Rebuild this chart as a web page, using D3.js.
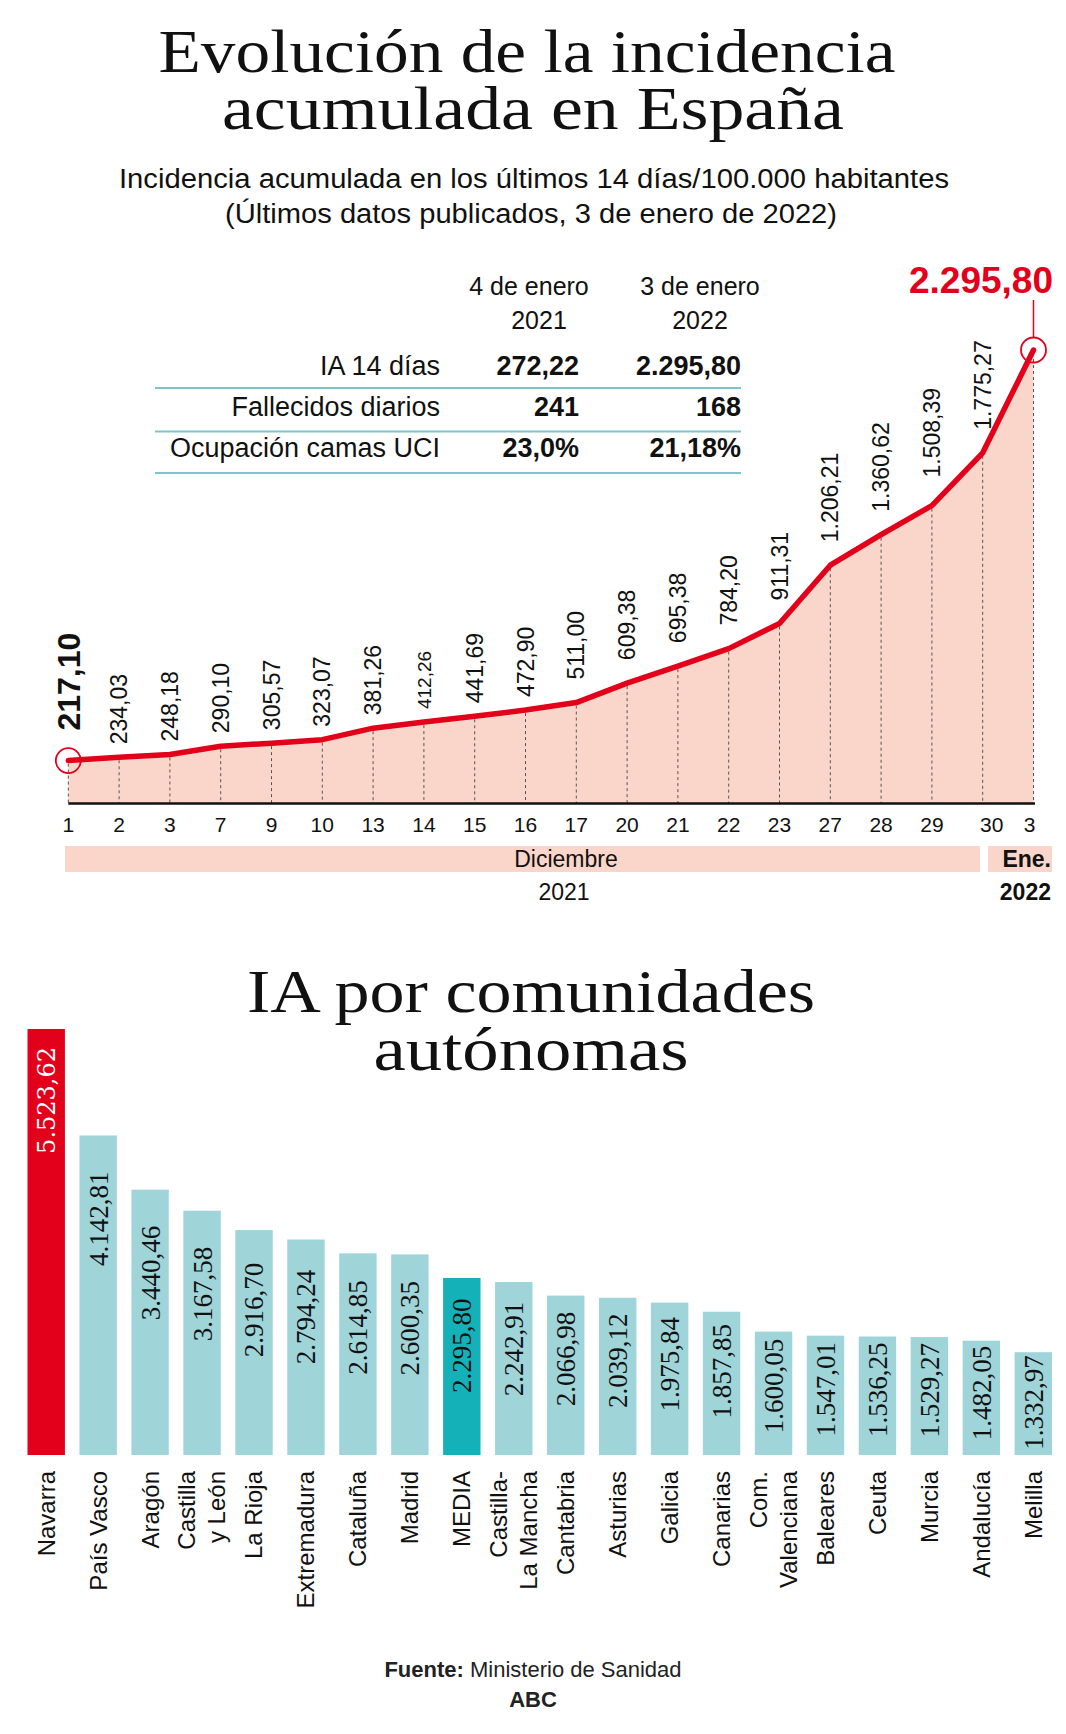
<!DOCTYPE html>
<html><head><meta charset="utf-8">
<script src="https://cdn.jsdelivr.net/npm/d3@7"></script>
<style>body{margin:0;background:#fff} svg{display:block}</style>
</head><body><svg id="c" width="1066" height="1734"></svg>
<script>
// ---------- DATA ----------
const days = ["1","2","3","7","9","10","13","14","15","16","17","20","21","22","23","27","28","29","30","3"];
const incidence = [217.10,234.03,248.18,290.10,305.57,323.07,381.26,412.26,441.69,472.90,511.00,609.38,695.38,784.20,911.31,1206.21,1360.62,1508.39,1775.27,2295.80];
const months = ["Diciembre","Ene."];
const years = ["2021","2022"];
const tableRowLabels = ["IA 14 días","Fallecidos diarios","Ocupación camas UCI"];
const tableHeaders = [["4 de enero","2021"],["3 de enero","2022"]];
const values2021 = ["272,22","241","23,0%"];
const values2022 = ["2.295,80","168","21,18%"];
const regions = ["Navarra","País Vasco","Aragón","Castilla|y León","La Rioja","Extremadura","Cataluña","Madrid","MEDIA","Castilla-|La Mancha","Cantabria","Asturias","Galicia","Canarias","Com.|Valenciana","Baleares","Ceuta","Murcia","Andalucía","Melilla"];
const regionIA = [5523.62,4142.81,3440.46,3167.58,2916.70,2794.24,2614.85,2600.35,2295.80,2242.91,2066.98,2039.12,1975.84,1857.85,1600.05,1547.01,1536.25,1529.27,1482.05,1332.97];

// ---------- SETUP ----------
const es = d3.formatLocale({decimal:",", thousands:".", grouping:[3], currency:["","€"]});
const fmt = es.format(",.2f");
const svg = d3.select("#c");
const SANS = "'Liberation Sans', Arial, sans-serif";
const SERIF = "'Liberation Serif', 'Times New Roman', serif";
const RED = "#e2001a", PINK = "#fad6ca", TEAL = "#9fd4d9", TEAL_D = "#14b2b8", INK = "#111";

function txt(x, y, s, size, opts = {}) {
  const t = svg.append("text").attr("x", x).attr("y", y).text(s)
    .attr("font-family", opts.family || SANS).attr("font-size", size)
    .attr("font-weight", opts.weight || "normal")
    .attr("fill", opts.fill || INK).attr("text-anchor", opts.anchor || "middle");
  if (opts.width) t.attr("textLength", opts.width).attr("lengthAdjust", "spacingAndGlyphs");
  return t;
}

// ---------- TITLES ----------
txt(527, 72, "Evolución de la incidencia", 62, {family: SERIF, width: 737});
txt(533, 129, "acumulada en España", 62, {family: SERIF, width: 622});
txt(534, 188, "Incidencia acumulada en los últimos 14 días/100.000 habitantes", 27, {width: 830});
txt(531, 223, "(Últimos datos publicados, 3 de enero de 2022)", 27, {width: 612});

// ---------- TABLE ----------
const hdrX = [[529, 539], [700, 700]];
tableHeaders.forEach((h, c) => {
  txt(hdrX[c][0], 295, h[0], 25);
  txt(hdrX[c][1], 329, h[1], 25);
});
const rowY = [375, 416, 457];
const ruleY = [388, 431.5, 473];
tableRowLabels.forEach((l, r) => {
  txt(440, rowY[r], l, 27, {anchor: "end"});
  txt(579, rowY[r], values2021[r], 27, {anchor: "end", weight: "bold"});
  txt(741, rowY[r], values2022[r], 27, {anchor: "end", weight: "bold"});
  svg.append("line").attr("x1", 155).attr("x2", 741).attr("y1", ruleY[r]).attr("y2", ruleY[r])
    .attr("stroke", "#7fc4c8").attr("stroke-width", 2);
});

// ---------- LINE CHART ----------
const idx = d3.range(incidence.length);
const x = d3.scalePoint().domain(idx).range([68.3, 1033.5]);
const y = d3.scaleLinear().domain([0, 2295.8]).range([803.5, 350]);

svg.append("path").datum(idx)
  .attr("d", d3.area().x(i => x(i)).y0(y(0)).y1(i => y(incidence[i])))
  .attr("fill", PINK);

svg.append("g").selectAll("line").data(idx).join("line")
  .attr("x1", i => x(i)).attr("x2", i => x(i))
  .attr("y1", i => y(incidence[i]) + 3).attr("y2", y(0))
  .attr("stroke", "#555").attr("stroke-width", 1).attr("stroke-dasharray", "3,3");

svg.append("line").attr("x1", x(0)).attr("x2", x(idx.length - 1) + 1.5)
  .attr("y1", y(0)).attr("y2", y(0)).attr("stroke", INK).attr("stroke-width", 2.5);

svg.append("path").datum(idx)
  .attr("d", d3.line().x(i => x(i)).y(i => y(incidence[i])))
  .attr("fill", "none").attr("stroke", RED).attr("stroke-width", 5.5)
  .attr("stroke-linejoin", "round").attr("stroke-linecap", "round");

const last = idx.length - 1;
[0, last].forEach(i => {
  svg.append("circle").attr("cx", x(i)).attr("cy", y(incidence[i])).attr("r", 12.5)
    .attr("fill", "none").attr("stroke", RED).attr("stroke-width", 1.8);
});
svg.append("line").attr("x1", x(last)).attr("x2", x(last))
  .attr("y1", 300).attr("y2", y(incidence[last]) - 12.5)
  .attr("stroke", RED).attr("stroke-width", 1.5);
txt(1053, 293, fmt(incidence[last]), 37, {anchor: "end", weight: "bold", fill: RED});

// value labels
idx.slice(0, last).forEach(i => {
  const first = i === 0;
  const small = i === 7;
  const gap = first ? 30 : (i < 10 ? 13 : (i === 17 ? 28 : 23));
  const px = x(i), py = y(incidence[i]) - gap;
  svg.append("text").attr("transform", `translate(${px},${py}) rotate(-90)`)
    .attr("dy", "0.35em").attr("text-anchor", "start")
    .attr("font-family", SANS).attr("font-size", first ? 32 : (small ? 19 : 23))
    .attr("font-weight", first ? "bold" : "normal").attr("fill", INK)
    .text(fmt(incidence[i]));
});

// x tick labels
const tickDx = i => (i === last - 1 ? 9 : (i === last ? -4 : 0));
idx.forEach(i => txt(x(i) + tickDx(i), 832, days[i], 21));

// month bands
svg.append("rect").attr("x", 65).attr("y", 846).attr("width", 915).attr("height", 26).attr("fill", PINK);
svg.append("rect").attr("x", 988).attr("y", 846).attr("width", 64).attr("height", 26).attr("fill", PINK);
txt(566, 867, months[0], 23);
txt(1051, 867, months[1], 23, {anchor: "end", weight: "bold"});
txt(564, 900, years[0], 23);
txt(1051, 900, years[1], 23, {anchor: "end", weight: "bold"});

// ---------- BAR CHART ----------
txt(531, 1012, "IA por comunidades", 62, {family: SERIF, width: 568});
txt(531, 1070, "autónomas", 62, {family: SERIF, width: 315});

const bx = d3.scaleBand().domain(regions).range([27.5, 1052]).paddingInner(0.28).paddingOuter(0);
const by = d3.scaleLinear().domain([0, d3.max(regionIA)]).range([1455, 1029]);
const colorOf = (r, i) => i === 0 ? RED : (r === "MEDIA" ? TEAL_D : TEAL);

svg.append("g").selectAll("rect").data(regions).join("rect")
  .attr("x", r => bx(r)).attr("width", bx.bandwidth())
  .attr("y", (r, i) => by(regionIA[i])).attr("height", (r, i) => by(0) - by(regionIA[i]))
  .attr("fill", colorOf);

regions.forEach((r, i) => {
  const cx = bx(r) + bx.bandwidth() / 2;
  const top = by(regionIA[i]);
  const isFirst = i === 0;
  const t = svg.append("text")
    .attr("text-anchor", "end").attr("dy", "0.35em")
    .attr("font-family", isFirst ? "'DejaVu Serif', serif" : SERIF)
    .attr("font-size", isFirst ? 24 : 27)
    .attr("fill", isFirst ? "#fff" : INK)
    .text(fmt(regionIA[i]));
  const len = t.node().getComputedTextLength();
  const h = by(0) - top;
  const gap = isFirst ? 18 : Math.max(3, Math.min(36, 0.25 * (h - len)));
  t.attr("transform", `translate(${cx},${top + gap}) rotate(-90)`);

  const lines = r.split("|");
  lines.forEach((ln, k) => {
    const off = (k - (lines.length - 1) / 2) * 30;
    svg.append("text").attr("transform", `translate(${cx + off},1471) rotate(-90)`)
      .attr("dy", "0.35em").attr("text-anchor", "end")
      .attr("font-family", SANS).attr("font-size", 24).attr("fill", INK).text(ln);
  });
});

// ---------- SOURCE ----------
const src = svg.append("text").attr("x", 533).attr("y", 1677).attr("text-anchor", "middle")
  .attr("font-family", SANS).attr("font-size", 22).attr("fill", "#222");
src.append("tspan").attr("font-weight", "bold").text("Fuente:");
src.append("tspan").text(" Ministerio de Sanidad");
txt(533, 1707, "ABC", 22, {weight: "bold", fill: "#222"});
</script></body></html>
